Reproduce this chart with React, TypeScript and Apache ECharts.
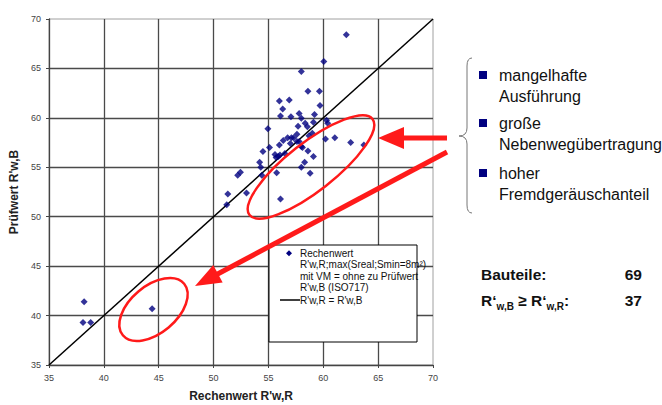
import React, { useEffect, useRef } from "react";
import * as echarts from "echarts";

// ---- data ----
const rechenwert = [
  38.2, 38.1, 38.8, 44.4, 51.3, 51.2, 52.2, 52.45, 53.0, 54.2,
  54.3, 54.4, 54.5, 54.95, 55.1, 55.6, 55.7, 55.9, 56.05, 55.75,
  56.0, 56.1, 56.35, 56.5, 56.75, 57.0, 57.1, 57.3, 57.6, 57.6,
  57.8, 58.0, 58.1, 58.6, 59.1, 58.3, 58.0, 58.8, 58.7, 59.0,
  60.2, 61.05, 62.5, 63.7, 57.7, 58.35, 58.55, 59.1, 60.3, 60.4,
  58.0, 56.1, 57.05, 57.8, 59.2, 56.3, 59.7, 56.0, 56.9, 58.6,
  59.65, 58.0, 60.05, 62.1,
];
const pruefwert = [
  41.4, 39.3, 39.3, 40.7, 52.3, 51.2, 54.2, 54.5, 52.4, 55.5,
  55.0, 54.2, 56.6, 58.9, 57.0, 56.3, 56.0, 56.1, 56.25, 54.45,
  57.25, 51.8, 57.7, 56.4, 58.0, 57.4, 58.0, 58.0, 58.35, 57.6,
  57.6, 57.1, 57.0, 56.65, 56.1, 55.5, 55.0, 54.4, 58.2, 58.45,
  57.85, 58.0, 57.5, 57.25, 59.15, 59.45, 59.1, 59.55, 59.75, 59.45,
  59.95, 60.2, 60.1, 60.45, 60.35, 60.9, 61.25, 61.7, 61.8, 62.7,
  62.7, 64.7, 65.7, 68.4,
];
const diagonalEnds = [35, 70];
const axisMin = 35;
const axisMax = 70;
const axisStep = 5;

const seriesNames = ["Rechenwert", "R'w,R = R'w,B"];
const legendScatterText = [
  "Rechenwert",
  "R'w,R;max(Sreal;Smin=8m²)",
  "mit VM = ohne zu Prüfwert",
  "R'w,B (ISO717)",
];
const legendLineText = "R'w,R = R'w,B";
const xAxisName = "Rechenwert R'w,R";
const yAxisName = "Prüfwert R'w,B";
const bulletTexts = [
  "mangelhafte\nAusführung",
  "große\nNebenwegübertragung",
  "hoher\nFremdgeräuschanteil",
];
const statsValues = [69, 37];

const FONT = "Arial, 'Liberation Sans', Helvetica, sans-serif";
const RED = "#ff1a1a";
const NAVY = "#000080";

echarts.graphic.registerShape(
  "brace",
  echarts.graphic.extendPath(
    "M472,58 Q467,58 467,66 L467,128 Q467,136 459,136 Q467,136 467,144 L467,205 Q467,213 472,213",
    {}
  )
);

export default function App() {
  const ref = useRef<HTMLDivElement>(null);

  useEffect(() => {
    document.body.style.margin = "0";
    if (!ref.current) return;
    const chart = echarts.init(ref.current, undefined, { renderer: "svg" });

    const scatterData = rechenwert.map((x, i) => [x, pruefwert[i]]);
    const lineData = diagonalEnds.map((v) => [v, v]);

    const deg = Math.PI / 180;

    const arrow2Tip = [195, 286];
    const arrow2Tail = [447, 152];
    const dx = arrow2Tail[0] - arrow2Tip[0];
    const dy = arrow2Tail[1] - arrow2Tip[1];
    const len = Math.sqrt(dx * dx + dy * dy);
    const ux = dx / len, uy = dy / len;
    const nx = -uy, ny = ux;
    const headLen = 26, headHalf = 10;
    const bx = arrow2Tip[0] + ux * headLen, by = arrow2Tip[1] + uy * headLen;

    const axisCommon = {
      type: "value" as const,
      min: axisMin,
      max: axisMax,
      interval: axisStep,
      nameLocation: "middle" as const,
      nameGap: 25,
      nameTextStyle: { fontFamily: FONT, fontSize: 12, fontWeight: "bold" as const, color: "#222" },
      axisLine: { show: true, onZero: false, lineStyle: { color: "#444", width: 1.3 } },
      axisTick: { show: true, length: 3, lineStyle: { color: "#444", width: 1 } },
      axisLabel: { fontFamily: FONT, fontSize: 9, color: "#444", margin: 8 },
      splitLine: {
        show: true,
        showMinLine: false,
        showMaxLine: false,
        lineStyle: { color: "#4a4a4a", width: 1.3 },
      },
    };

    chart.setOption({
      animation: false,
      grid: {
        left: 49,
        top: 19,
        width: 384,
        height: 346,
        containLabel: false,
        outerBoundsMode: "none",
        show: true,
        borderColor: "#a0a0a0",
        borderWidth: 1,
        backgroundColor: "transparent",
      },
      xAxis: { ...axisCommon, name: xAxisName },
      yAxis: { ...axisCommon, name: yAxisName, nameGap: 26 },
      series: [
        {
          name: seriesNames[0],
          type: "scatter",
          data: scatterData,
          symbol: "diamond",
          symbolSize: 7,
          itemStyle: { color: NAVY },
          z: 3,
        },
        {
          name: seriesNames[1],
          type: "line",
          data: lineData,
          showSymbol: false,
          symbol: "none",
          lineStyle: { color: "#000", width: 1.5 },
          z: 2,
        },
      ],
      graphic: [
        // legend box
        {
          type: "rect",
          shape: { x: 269, y: 245, width: 148, height: 97 },
          style: { fill: "#fff", stroke: "#000", lineWidth: 1 },
          z: 10,
        },
        {
          type: "polygon",
          shape: { points: [[289, 250.3], [292, 253.3], [289, 256.3], [286, 253.3]] },
          style: { fill: NAVY },
          z: 11,
        },
        {
          type: "text",
          x: 300,
          y: 247.5,
          style: {
            text: legendScatterText.join("\n"),
            fontFamily: FONT,
            fontSize: 10,
            lineHeight: 11.5,
            fill: "#111",
          },
          z: 11,
        },
        {
          type: "line",
          shape: { x1: 280, y1: 300, x2: 300, y2: 300 },
          style: { stroke: "#000", lineWidth: 1.5 },
          z: 11,
        },
        {
          type: "text",
          x: 300,
          y: 300,
          style: {
            text: legendLineText,
            fontFamily: FONT,
            fontSize: 10,
            fill: "#111",
            verticalAlign: "middle",
          },
          z: 11,
        },
        // red ellipses
        {
          type: "ellipse",
          x: 311,
          y: 167,
          rotation: 38 * deg,
          shape: { cx: 0, cy: 0, rx: 78, ry: 24 },
          style: { fill: "none", stroke: RED, lineWidth: 2.5 },
          z: 12,
        },
        {
          type: "ellipse",
          x: 153.5,
          y: 309.5,
          rotation: 40 * deg,
          shape: { cx: 0, cy: 0, rx: 40, ry: 23.5 },
          style: { fill: "none", stroke: RED, lineWidth: 2.5 },
          z: 12,
        },
        // arrow 1
        {
          type: "line",
          shape: { x1: 447, y1: 138, x2: 400, y2: 138 },
          style: { stroke: RED, lineWidth: 5 },
          z: 12,
        },
        {
          type: "polygon",
          shape: { points: [[378, 138], [404, 127], [404, 149]] },
          style: { fill: RED },
          z: 12,
        },
        // arrow 2
        {
          type: "line",
          shape: { x1: arrow2Tail[0], y1: arrow2Tail[1], x2: bx - ux * 3, y2: by - uy * 3 },
          style: { stroke: RED, lineWidth: 5 },
          z: 12,
        },
        {
          type: "polygon",
          shape: {
            points: [
              arrow2Tip,
              [bx + nx * headHalf, by + ny * headHalf],
              [bx - nx * headHalf, by - ny * headHalf],
            ],
          },
          style: { fill: RED },
          z: 12,
        },
        // brace
        {
          type: "brace",
          x: 0,
          y: 0,
          style: { fill: "none", stroke: "#777", lineWidth: 1 },
          z: 5,
        },
        // bullets
        ...bulletTexts.flatMap((t, i) => {
          const cy = [75, 123, 173][i];
          return [
            {
              type: "rect",
              shape: { x: 479, y: cy - 4, width: 8, height: 8 },
              style: { fill: NAVY },
              z: 5,
            },
            {
              type: "text",
              x: 499,
              y: cy - 10.5,
              style: {
                text: t,
                fontFamily: FONT,
                fontSize: 16,
                lineHeight: 21,
                fill: "#111",
              },
              z: 5,
            },
          ];
        }),
        // stats
        {
          type: "text",
          x: 481,
          y: 274,
          style: {
            text: "Bauteile:",
            fontFamily: FONT,
            fontSize: 15.5,
            fontWeight: "bold",
            fill: "#111",
            verticalAlign: "middle",
          },
          z: 5,
        },
        {
          type: "text",
          x: 642,
          y: 274,
          style: {
            text: String(statsValues[0]),
            fontFamily: FONT,
            fontSize: 15.5,
            fontWeight: "bold",
            fill: "#111",
            align: "right",
            verticalAlign: "middle",
          },
          z: 5,
        },
        {
          type: "text",
          x: 481,
          y: 300,
          style: {
            text: "{m|R‘}{s|w,B}{m| ≥ R‘}{s|w,R}{m|:}",
            fontFamily: FONT,
            fontSize: 15.5,
            fontWeight: "bold",
            fill: "#111",
            verticalAlign: "middle",
            rich: {
              m: { fontFamily: FONT, fontSize: 15.5, fontWeight: "bold", fill: "#111", lineHeight: 22, verticalAlign: "middle" },
              s: { fontFamily: FONT, fontSize: 10, fontWeight: "bold", fill: "#111", lineHeight: 10, verticalAlign: "bottom" },
            },
          },
          z: 5,
        },
        {
          type: "text",
          x: 642,
          y: 300,
          style: {
            text: String(statsValues[1]),
            fontFamily: FONT,
            fontSize: 15.5,
            fontWeight: "bold",
            fill: "#111",
            align: "right",
            verticalAlign: "middle",
          },
          z: 5,
        },
      ],
    });

    return () => chart.dispose();
  }, []);

  return <div ref={ref} style={{ width: 662, height: 405 }} />;
}
